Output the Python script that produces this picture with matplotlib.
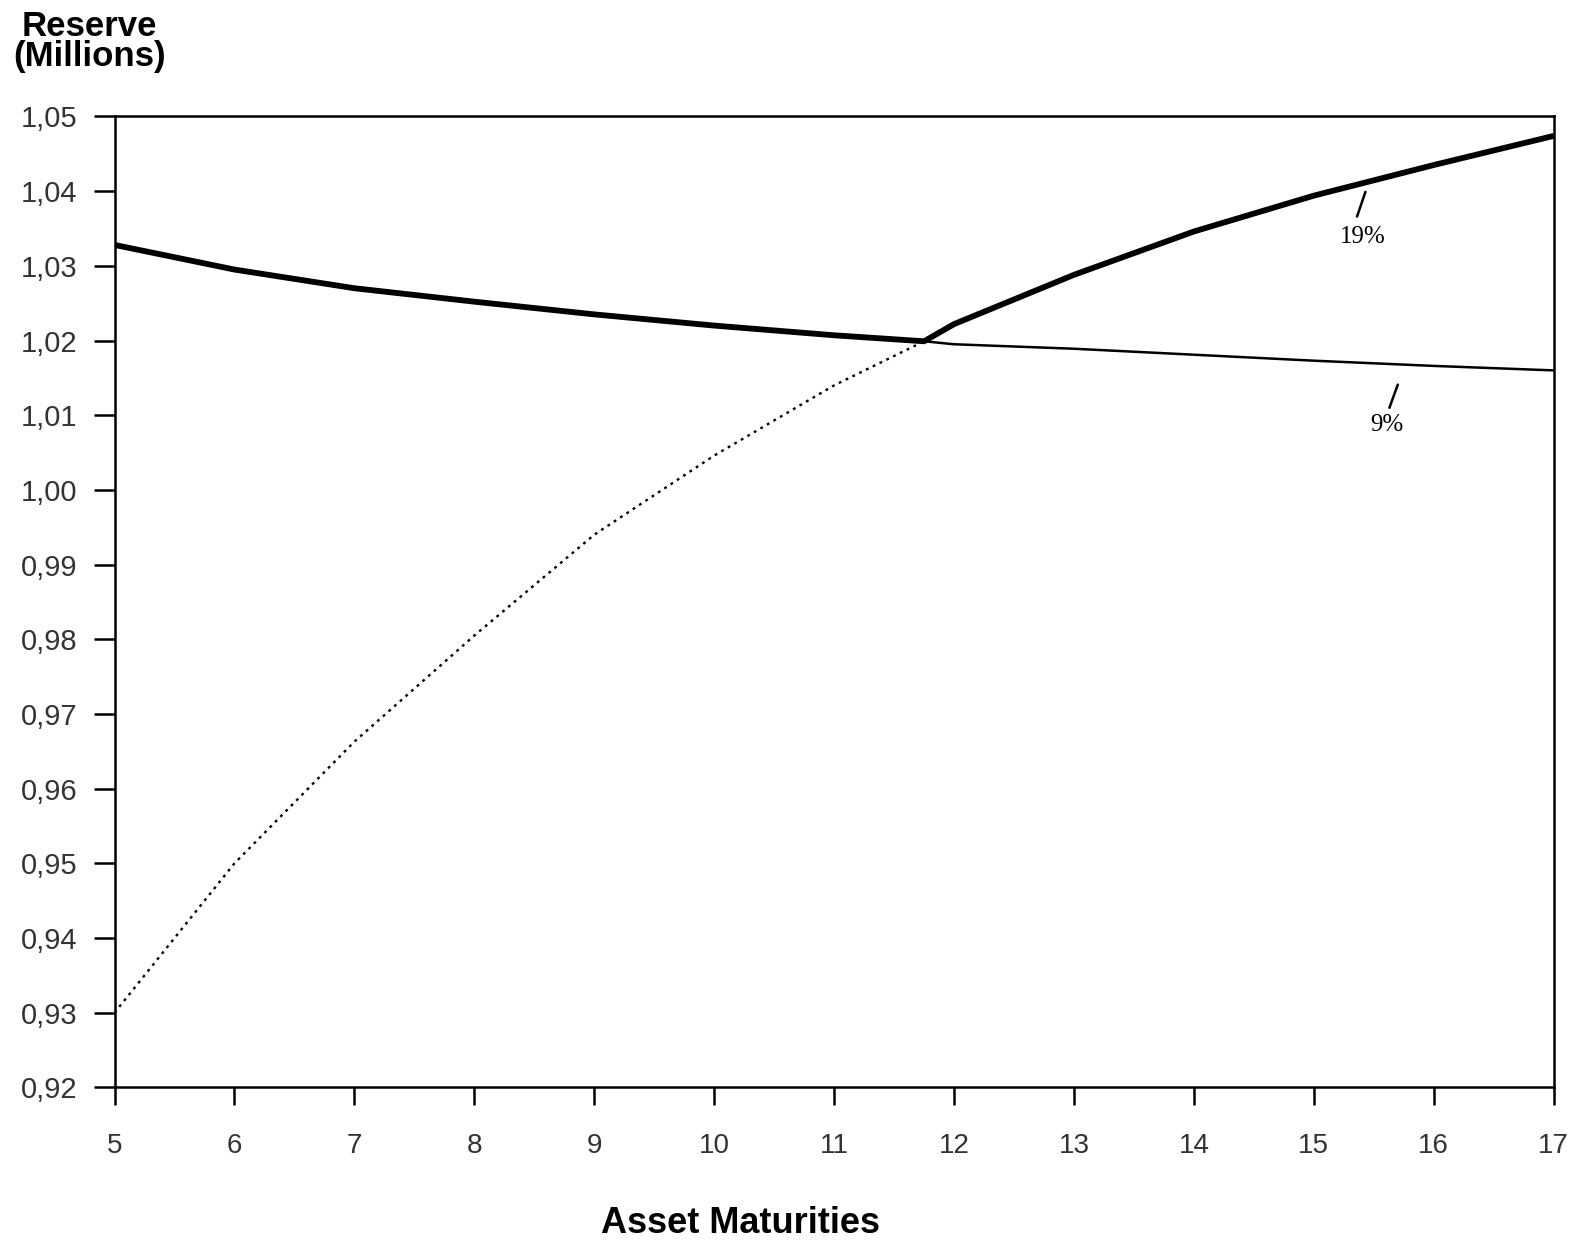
import matplotlib
matplotlib.use("Agg")
import matplotlib.pyplot as plt
import numpy as np

# --------- data ---------------------------------------
maturities = [5, 6, 7, 8, 9, 10, 11, 11.75, 12, 13, 14, 15, 16, 17]
reserve_9  = [1.0328, 1.0295, 1.0270, 1.0252, 1.0235, 1.0220, 1.0207,
              1.0199, 1.0195, 1.0189, 1.0181, 1.0173, 1.0166, 1.0160]
reserve_19 = [0.9300, 0.9500, 0.9663, 0.9805, 0.9940, 1.0046, 1.0140,
              1.0199, 1.0222, 1.0288, 1.0346, 1.0394, 1.0435, 1.0474]

y_ticks = [0.92 + 0.01 * i for i in range(14)]
y_tick_labels = [f"{v:.2f}".replace(".", ",") for v in y_ticks]
x_ticks = list(range(5, 18))

# --------- figure ----------
fig = plt.figure(figsize=(15.89, 12.43), dpi=100)
ax = fig.add_axes([0.0721, 0.1252, 0.9057, 0.7811])

x = np.array(maturities)
y9 = np.array(reserve_9)
y19 = np.array(reserve_19)
upper = np.maximum(y9, y19)   # the higher reserve is drawn heavy

ax.plot(x, y9, color="black", linewidth=1.8)
ax.plot(x, y19, color="black", linewidth=1.7, linestyle=(0, (1.2, 2.0)))
ax.plot(x, upper, color="black", linewidth=4.2, solid_capstyle="butt")

ax.set_xlim(5, 17)
ax.set_ylim(0.92, 1.05)
ax.set_xticks(x_ticks)
ax.set_xticklabels([str(v) for v in x_ticks])
ax.set_yticks(y_ticks)
ax.set_yticklabels(y_tick_labels)

for side in ["left", "bottom", "top", "right"]:
    ax.spines[side].set_linewidth(1.8)
ax.tick_params(axis="y", direction="out", length=15, width=1.8, pad=12,
               labelsize=21, labelcolor="#333333")
ax.tick_params(axis="x", direction="out", length=13, width=1.8, pad=20,
               labelsize=20, labelcolor="#333333")
for lab in ax.get_xticklabels() + ax.get_yticklabels():
    lab.set_family("Liberation Sans")

# labels on the curves
ax.annotate("", xy=(15.43, 1.0399), xytext=(15.36, 1.0366),
            arrowprops=dict(arrowstyle="-", color="black", lw=1.8,
                            shrinkA=0, shrinkB=0))
ax.text(15.41, 1.0339, "19%", ha="center", va="center", fontsize=18,
        family="Liberation Serif")
ax.annotate("", xy=(15.70, 1.0141), xytext=(15.63, 1.0110),
            arrowprops=dict(arrowstyle="-", color="black", lw=1.8,
                            shrinkA=0, shrinkB=0))
ax.text(15.61, 1.0087, "9%", ha="center", va="center", fontsize=18,
        family="Liberation Serif")

# titles
fig.text(0.0565, 0.992, "Reserve\n(Millions)", ha="center", va="top",
         multialignment="center", fontsize=25, fontweight="bold",
         linespacing=0.9, family="Liberation Sans")
fig.text(0.466, 0.016, "Asset Maturities", ha="center", va="center",
         fontsize=26, fontweight="bold", family="Liberation Sans")

fig.savefig("out.png", dpi=100)
